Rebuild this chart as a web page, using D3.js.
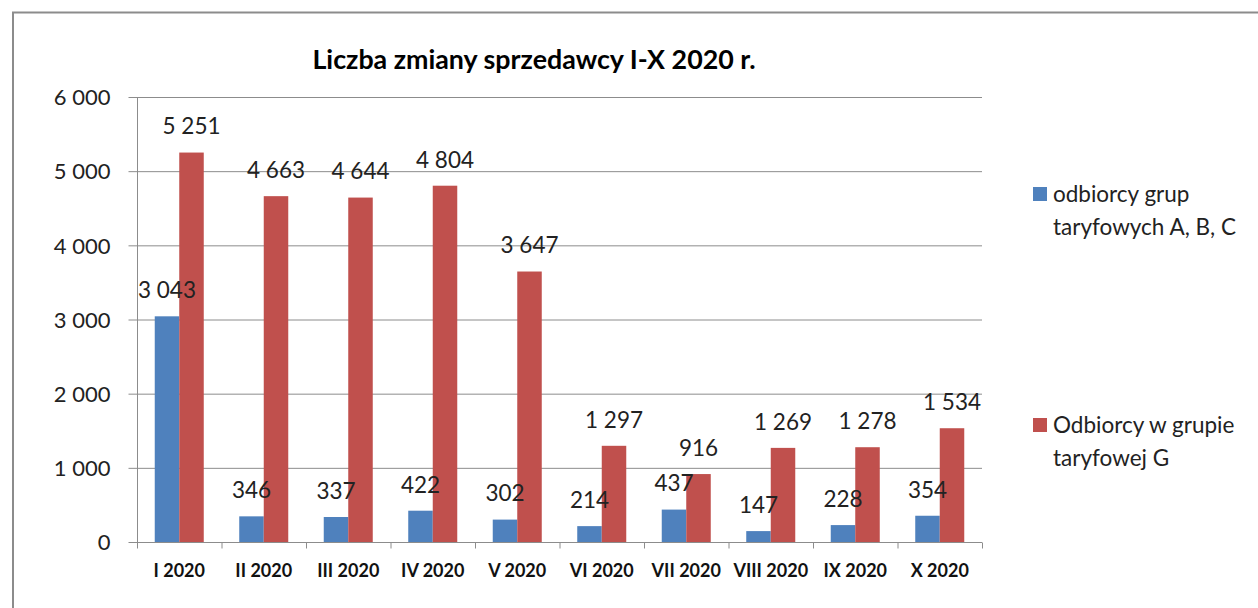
<!DOCTYPE html>
<html><head><meta charset="utf-8">
<script src="https://cdn.jsdelivr.net/npm/d3@7"></script>
<style>body{margin:0;background:#fff}svg{display:block}</style>
</head><body>
<svg id="c" width="1258" height="608"></svg>
<script>
const categories = ["I 2020","II 2020","III 2020","IV 2020","V 2020","VI 2020","VII 2020","VIII 2020","IX 2020","X 2020"];
const seriesNames = ["odbiorcy grup taryfowych A, B, C","Odbiorcy w grupie taryfowej G"];
const valuesABC = [3043,346,337,422,302,214,437,147,228,354];
const valuesG = [5251,4663,4644,4804,3647,1297,916,1269,1278,1534];
const yTicks = [0,1000,2000,3000,4000,5000,6000];
const colors = ["#4F81BD","#C0504D"];
const title = "Liczba zmiany sprzedawcy I-X 2020 r.";

const svg = d3.select("#c");
const font = "Lato, 'Open Sans', sans-serif";
const fmtSp = v => d3.format(",")(v).replace(/,/g, " ");

// outer border
svg.append("path").attr("d","M13,608 V12.5 H1258").attr("fill","none").attr("stroke","#8c8c8c").attr("stroke-width",2);

const L=137, R=982, T=97, B=542;
const x = d3.scaleBand().domain(categories).range([L,R]).paddingInner(0.42).paddingOuter(0.21);
const xs = d3.scaleBand().domain([0,1]).range([0,x.bandwidth()]);
const y = d3.scaleLinear().domain([0,6000]).range([B,T]);

// gridlines
svg.append("g").selectAll("line").data(yTicks.filter(d=>d>0)).join("line")
  .attr("x1",L).attr("x2",R).attr("y1",d=>y(d)+0.5).attr("y2",d=>y(d)+0.5)
  .attr("stroke","#8c8c8c").attr("stroke-width",1);

// y axis
const ya = svg.append("g").attr("transform",`translate(${L+0.5},0)`)
  .call(d3.axisLeft(y).tickValues(yTicks).tickSize(9).tickPadding(18).tickFormat(fmtSp));
ya.select(".domain").attr("stroke","#8c8c8c").attr("d",`M0,${T}V${B}`);
ya.selectAll(".tick line").attr("stroke","#8c8c8c");
ya.selectAll(".tick text").attr("font-family",font).attr("font-size",22).attr("fill","#222").attr("dy","0.35em");

// x axis
const step = (R-L)/categories.length;
const xa = svg.append("g").attr("transform",`translate(0,${B+0.5})`);
xa.append("line").attr("x1",L).attr("x2",R).attr("stroke","#8c8c8c");
xa.selectAll(".tk").data(d3.range(categories.length+1)).join("line")
  .attr("x1",i=>L+i*step+0.5).attr("x2",i=>L+i*step+0.5).attr("y1",0).attr("y2",6).attr("stroke","#8c8c8c");
xa.selectAll("text").data(categories).join("text")
  .attr("x",d=>x(d)+x.bandwidth()/2).attr("y",34)
  .attr("text-anchor","middle").attr("font-family",font).attr("font-weight","bold").attr("font-size",18).attr("fill","#111")
  .text(d=>d);

// bars
const series = [valuesABC, valuesG];
series.forEach((vals,si)=>{
  svg.append("g").selectAll("rect").data(vals).join("rect")
    .attr("x",(d,i)=>x(categories[i])+xs(si))
    .attr("width",xs.bandwidth())
    .attr("y",d=>y(d)).attr("height",d=>B-y(d))
    .attr("fill",colors[si]);
});
// data labels (on top of all bars)
series.forEach((vals,si)=>{
  svg.append("g").selectAll("text").data(vals).join("text")
    .attr("x",(d,i)=>x(categories[i])+xs(si)+xs.bandwidth()/2)
    .attr("y",d=>y(d)-26).attr("dy","0.35em")
    .attr("text-anchor","middle").attr("font-family",font).attr("font-size",22.5).attr("fill","#222")
    .text(d=>fmtSp(d));
});

// title
svg.append("text").attr("x",534).attr("y",60).attr("dy","0.35em").attr("text-anchor","middle")
  .attr("font-family",font).attr("font-weight","bold").attr("font-size",26.8).attr("fill","#000").text(title);

// legend
const legend = [
  {lines:["odbiorcy grup","taryfowych A, B, C"], y:194},
  {lines:["Odbiorcy w grupie","taryfowej G"], y:425}
];
legend.forEach((l,i)=>{
  svg.append("rect").attr("x",1033).attr("y",l.y-7).attr("width",14).attr("height",14).attr("fill",colors[i]);
  l.lines.forEach((t,j)=>{
    svg.append("text").attr("x",1053).attr("y",l.y+j*33).attr("dy","0.35em")
      .attr("font-family",font).attr("font-size",22.5).attr("fill","#222").text(t);
  });
});
</script>
</body></html>
